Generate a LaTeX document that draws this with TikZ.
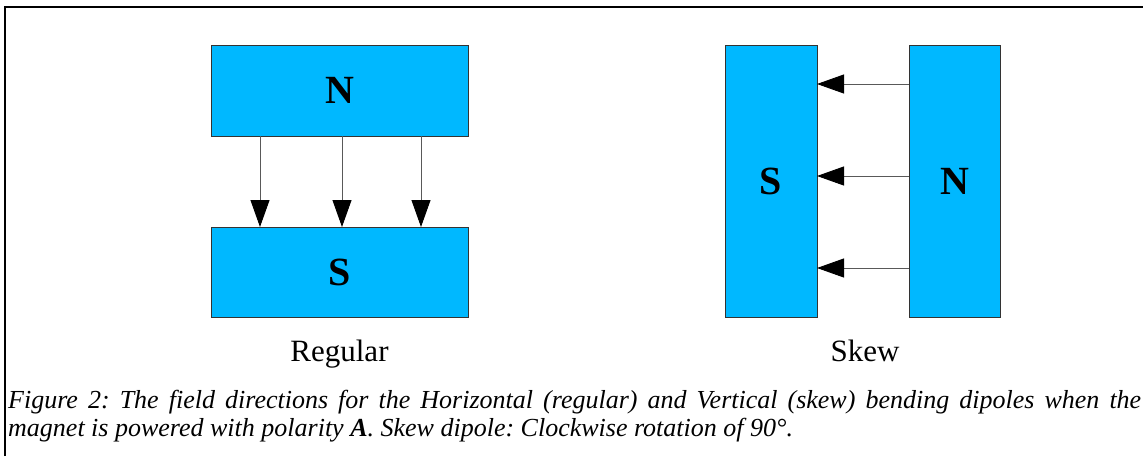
\documentclass[tikz,border=0pt]{standalone}
\usepackage{fontspec}
\setmainfont{Liberation Serif}
\usetikzlibrary{arrows.meta}
\definecolor{magnetblue}{RGB}{0,184,255}
\tikzset{
  magnet/.style={draw=black!80, fill=magnetblue, line width=0.9pt, inner sep=0pt, outer sep=0pt,
    font=\fontsize{40}{48}\selectfont\bfseries},
  field/.style={draw=black!65, line width=0.9pt,
    -{Triangle[length=27pt,width=19pt,color=black]}},
  tag/.style={font=\fontsize{31}{36}\selectfont, inner sep=0pt, anchor=base},
  captext/.style={font=\fontsize{26}{28}\selectfont\itshape\frenchspacing, text width=1133pt, align=justify,
    anchor=north west, inner sep=0pt},
}
\begin{document}
\begin{tikzpicture}[x=1pt,y=-1pt]
	\useasboundingbox (0,0) rectangle (1143,456);
	\draw[line width=1.3pt] (5,456) -- (5,7) -- (1143,7);
	
	% regular dipole
	\node[magnet, minimum width=257pt, minimum height=91pt] (regN) at (339.5,90.5) {N};
	\node[magnet, minimum width=257pt, minimum height=90pt] (regS) at (339.5,272) {S};
	\foreach \xa in {260,342,421}
		\draw[field] (regN.south -| \xa,0) -- (regS.north -| \xa,0);
	\node[tag] (regular) at (339.5,361) {Regular};
	
	% skew dipole
	\node[magnet, minimum width=92pt, minimum height=272pt] (skS) at (771,181) {S};
	\node[magnet, minimum width=91pt, minimum height=272pt] (skN) at (954.5,181) {N};
	\foreach \ya in {84,176,268}
		\draw[field] (skN.west |- 0,\ya) -- (skS.east |- 0,\ya);
	\node[tag] (skew) at (865,361) {Skew};
	
	% caption
	\node[captext] (caption) at (8,390) {Figure 2: The field directions for the Horizontal (regular) and Vertical (skew) bending dipoles when the\linebreak
		magnet is powered with polarity \textbf{A}. Skew dipole: Clockwise rotation of 90°.};
\end{tikzpicture}
\end{document}
